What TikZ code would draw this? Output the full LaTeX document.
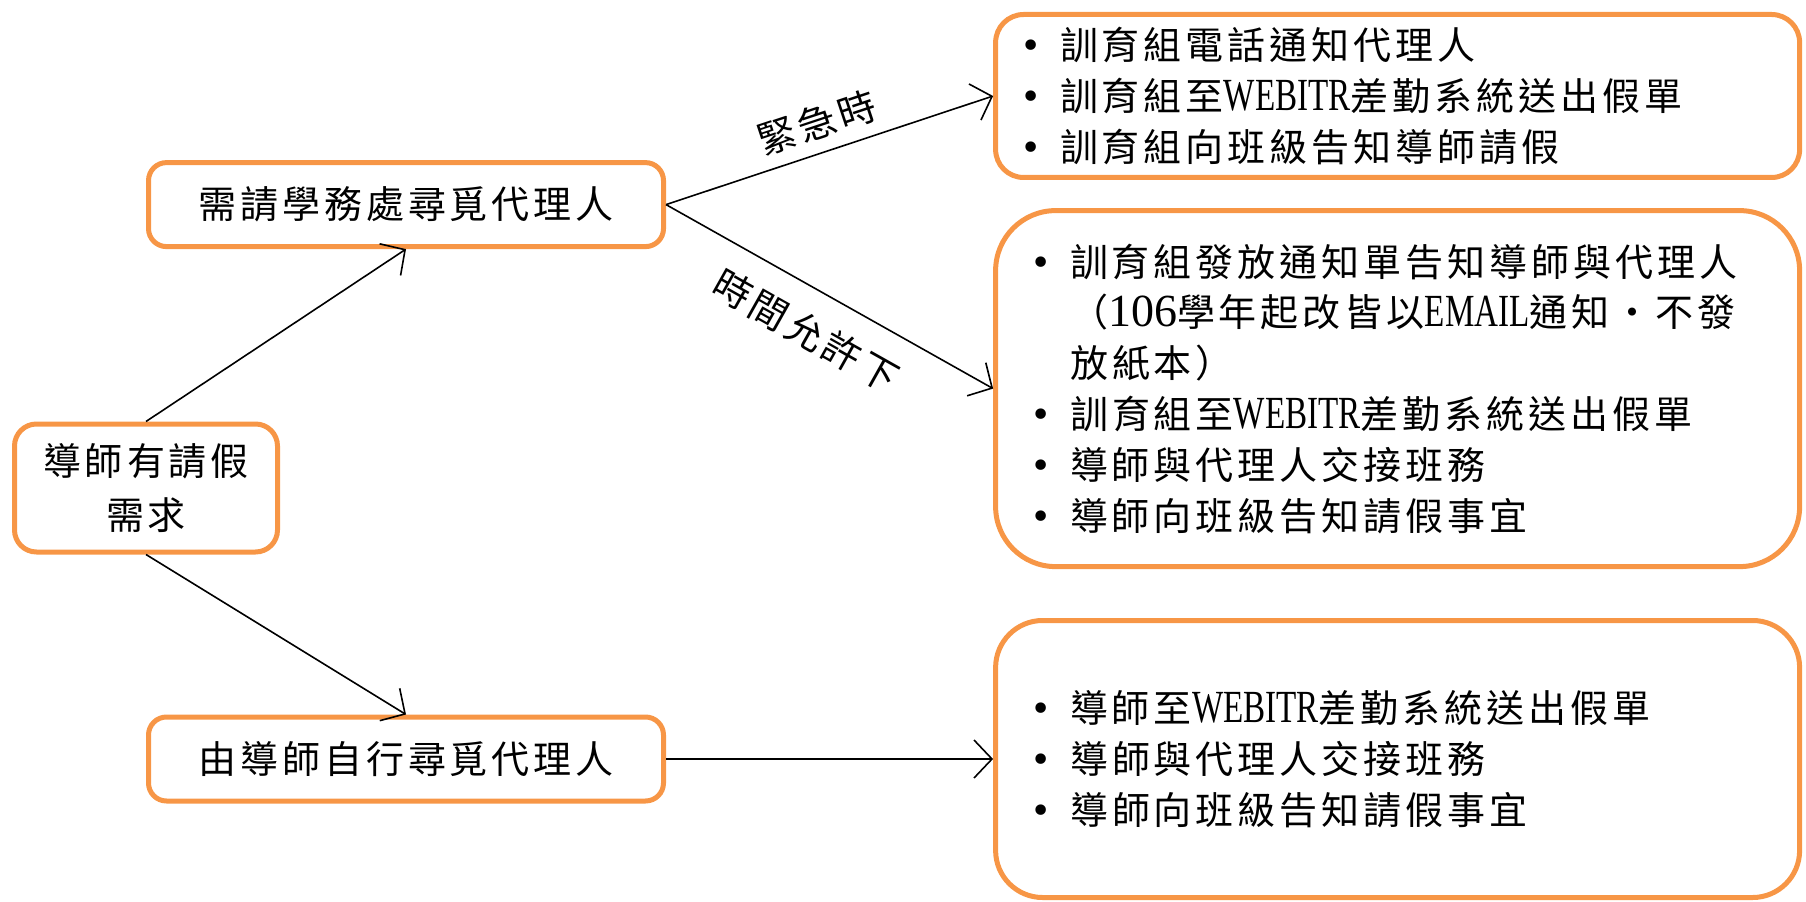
\documentclass[tikz,border=0pt]{standalone}
\usepackage{fontspec}
\setmainfont[LetterSpace=10.5]{Noto Sans CJK TC}
\newfontfamily\latfont[FakeStretch=0.72]{Liberation Serif}
\newfontfamily\digfont{Liberation Serif}
\newfontfamily\bulfont{DejaVu Sans}
\usetikzlibrary{arrows.meta}
\definecolor{boxorange}{HTML}{F79646}
\newcommand{\itm}{\makebox[10pt][l]{\bulfont\fontsize{9}{12.7}\selectfont\raisebox{0.2pt}{•}}}
\newcommand{\hang}{\hspace*{10pt}}
\newcommand{\lat}[1]{{\latfont\fontsize{11.5}{12.7}\selectfont #1}}
\newcommand{\digits}[1]{{\digfont\fontsize{11.5}{12.7}\selectfont #1}}
\begin{document}
\begin{tikzpicture}[
      x=1pt,y=1pt,
      font=\fontsize{9.5}{12.7}\selectfont,
      box/.style={draw=boxorange,line width=1.25pt,inner sep=0pt,align=center},
      src/.style={box,minimum width=65.75pt,minimum height=32pt,rounded corners=5.5pt,
        font=\fontsize{9.5}{13.6}\selectfont},
      way/.style={box,minimum width=128.75pt,minimum height=21pt,rounded corners=4.5pt},
      todo/.style={box,align=left,inner xsep=#1,text width=201pt-2*#1},
      link/.style={-{Straight Barb[length=4.5pt,width=9.5pt]},line width=0.4pt,draw=black},
      tag/.style={sloped,inner sep=3pt},
      ]
      \useasboundingbox (0,0) rectangle (451.5,225.25);
      % left column
      \node[src] (need) at (36.5,103.25) {導師有請假\\需求};
      \node[way] (office) at (101.5,174.1) {需請學務處尋覓代理人};
      \node[way] (self) at (101.5,35.5) {由導師自行尋覓代理人};
      % right column
      \node[todo=6.1pt,minimum height=40.75pt,rounded corners=7pt] (urgent) at (349.4,201.25)
        {\itm 訓育組電話通知代理人\\
         \itm 訓育組至\lat{WEBITR}差勤系統送出假單\\
         \itm 訓育組向班級告知導師請假};
      \node[todo=8.6pt,minimum height=89pt,rounded corners=15pt] (planned) at (349.4,128.1)
        {\itm 訓育組發放通知單告知導師與代理人\\
         \hang（\digits{106}學年起改皆以\lat{EMAIL}通知・不發\\
         \hang 放紙本）\\
         \itm 訓育組至\lat{WEBITR}差勤系統送出假單\\
         \itm 導師與代理人交接班務\\
         \itm 導師向班級告知請假事宜};
      \node[todo=8.6pt,minimum height=69.25pt,rounded corners=11.75pt] (selfdo) at (349.4,35.5)
        {\itm 導師至\lat{WEBITR}差勤系統送出假單\\
         \itm 導師與代理人交接班務\\
         \itm 導師向班級告知請假事宜};
      % connectors
      \draw[link] (need.north) -- (office.south);
      \draw[link] (need.south) -- (self.north);
      \draw[link] (office.east) -- node[tag,above,pos=.49] {緊急時} (urgent.west);
      \draw[link] (office.east) -- node[tag,below,pos=.49,inner sep=5.7pt] {時間允許下} (planned.west);
      \draw[link] (self.east) -- (selfdo.west);
    \end{tikzpicture}
\end{document}
